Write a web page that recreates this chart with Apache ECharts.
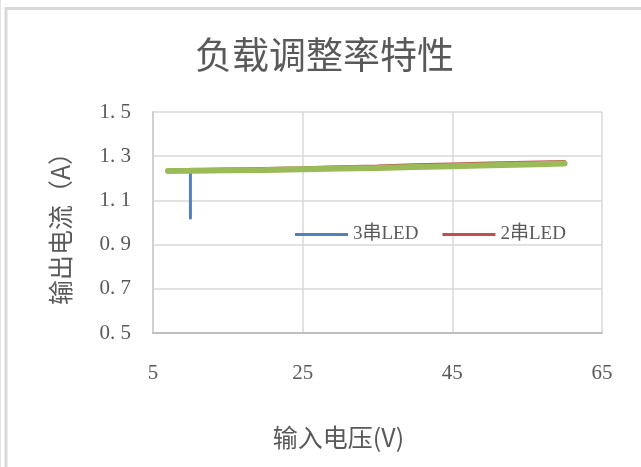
<!DOCTYPE html>
<html>
<head>
<meta charset="utf-8">
<script src="https://cdn.jsdelivr.net/npm/echarts@6/dist/echarts.min.js"></script>
<style>
  html, body { margin: 0; padding: 0; background: #fff; }
  #chart { width: 641px; height: 467px; }
</style>
</head>
<body>
<div id="chart"></div>
<script>
// Input voltage (V) vs. output current (A) for each LED string count
const series3Volt = [10, 10, 15, 20, 25, 30, 35, 40, 45, 50, 55, 60];
const series3Amp  = [1.02, 1.233, 1.235, 1.237, 1.240, 1.243, 1.246, 1.249, 1.253, 1.257, 1.261, 1.266];

const series2Volt = [7, 10, 15, 20, 25, 30, 35, 40, 45, 50, 55, 60];
const series2Amp  = [1.238, 1.240, 1.243, 1.246, 1.249, 1.253, 1.257, 1.262, 1.266, 1.270, 1.274, 1.277];

const series1Volt = [7, 10, 15, 20, 25, 30, 35, 40, 45, 50, 55, 60];
const series1Amp  = [1.233, 1.234, 1.236, 1.238, 1.241, 1.244, 1.247, 1.251, 1.255, 1.259, 1.263, 1.267];

const xTicks = [5, 25, 45, 65];
const yTicks = [0.5, 0.7, 0.9, 1.1, 1.3, 1.5];

const names = ['3串LED', '2串LED', '1串LED'];

const pairs = (xs, ys) => xs.map((x, i) => [x, ys[i]]);

const serifFont = "'Liberation Serif', 'Noto Sans CJK SC', serif";
const sansFont = "'Noto Sans CJK SC', 'Noto Sans', sans-serif";

const chart = echarts.init(document.getElementById('chart'), null, { renderer: 'canvas' });

chart.setOption({
  animation: false,
  backgroundColor: '#fff',
  title: {
    text: '负载调整率特性',
    left: 190,
    top: 31,
    textStyle: { fontFamily: sansFont, fontSize: 37, fontWeight: 'normal', color: '#595959' }
  },
  graphic: [
    { type: 'rect', shape: { x: 6, y: 8.5, width: 700, height: 600 },
      style: { fill: 'none', stroke: '#d9d9d9', lineWidth: 3 }, silent: true },
    { type: 'line', shape: { x1: 0.5, y1: 0, x2: 0.5, y2: 467 },
      style: { stroke: '#e3e3e3', lineWidth: 1 }, silent: true }
  ],
  legend: {
    data: [names[0], names[1]],
    left: 290,
    top: 220,
    icon: 'rect',
    itemWidth: 53,
    itemHeight: 3,
    itemGap: 24,
    textStyle: { fontFamily: serifFont, fontSize: 19, color: '#595959' }
  },
  grid: { left: 153, right: 39, top: 112, bottom: 134 },
  xAxis: {
    type: 'value',
    min: xTicks[0],
    max: xTicks[xTicks.length - 1],
    interval: 20,
    name: '输入电压(V)',
    nameLocation: 'middle',
    nameGap: 92,
    nameTextStyle: { fontFamily: sansFont, fontSize: 25, color: '#595959', padding: [0, 78, 0, 0] },
    axisLine: { show: true, lineStyle: { color: '#bfbfbf', width: 2 } },
    axisTick: { show: false },
    axisLabel: { margin: 30, fontFamily: serifFont, fontSize: 21, color: '#595959' },
    splitLine: { show: true, showMinLine: false, lineStyle: { color: '#d9d9d9', width: 1.5 } }
  },
  yAxis: {
    type: 'value',
    min: yTicks[0],
    max: yTicks[yTicks.length - 1],
    interval: 0.2,
    name: '输出电流（A）',
    nameLocation: 'middle',
    nameGap: 80,
    nameRotate: 90,
    nameTextStyle: { fontFamily: sansFont, fontSize: 25, color: '#595959' },
    axisLine: { show: true, lineStyle: { color: '#d0d0d0', width: 2 } },
    axisTick: { show: false },
    axisLabel: {
      margin: 22, fontFamily: serifFont, fontSize: 21, color: '#595959',
      formatter: v => v.toFixed(1).replace('.', '. ')
    },
    splitLine: { show: true, showMinLine: false, lineStyle: { color: '#d9d9d9', width: 1.5 } }
  },
  series: [
    {
      name: names[0], type: 'line', data: pairs(series3Volt, series3Amp),
      showSymbol: false, symbol: 'none', smooth: false, z: 2,
      lineStyle: { color: '#4f81bd', width: 3, cap: 'round' },
      itemStyle: { color: '#4f81bd' }
    },
    {
      name: names[1], type: 'line', data: pairs(series2Volt, series2Amp),
      showSymbol: false, symbol: 'none', z: 3,
      lineStyle: { color: '#c0504d', width: 2.5, cap: 'round' },
      itemStyle: { color: '#c0504d' }
    },
    {
      name: names[2], type: 'line', data: pairs(series1Volt, series1Amp),
      showSymbol: false, symbol: 'none', z: 4,
      lineStyle: { color: '#9bbb59', width: 6, cap: 'round' },
      itemStyle: { color: '#9bbb59' }
    }
  ]
});
</script>
</body>
</html>
